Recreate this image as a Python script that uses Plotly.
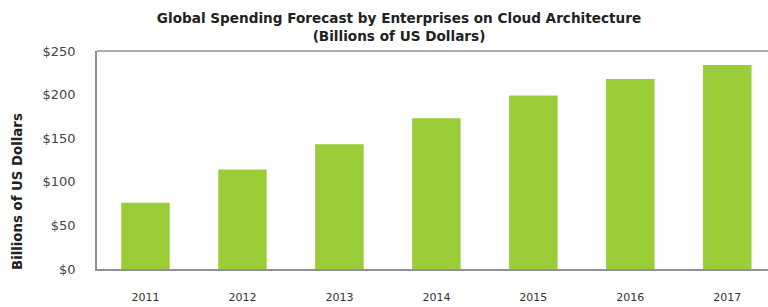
import plotly.graph_objects as go

years = ["2011", "2012", "2013", "2014", "2015", "2016", "2017"]
spending = [76, 114, 143, 173, 199, 218, 234]
y_ticks = [0, 50, 100, 150, 200, 250]
y_tick_labels = ["$0", "$50", "$100", "$150", "$200", "$250"]

W, H = 768, 307
L, R, T, B = 97, 0, 51, 38

fig = go.Figure(go.Bar(
    x=years, y=spending,
    marker=dict(color="#9acd38", line=dict(width=0)),
    width=0.5,
))

axis_col = "#8c9099"
font_fam = "DejaVu Sans, Verdana, sans-serif"
fig.update_layout(
    width=W, height=H,
    margin=dict(l=L, r=R, t=T, b=B),
    plot_bgcolor="white", paper_bgcolor="white",
    showlegend=False,
    font=dict(family=font_fam, color="#333333"),
    title=dict(
        text="<b>Global Spending Forecast by Enterprises on Cloud Architecture<br>(Billions of US Dollars)</b>",
        x=399 / W, xanchor="center", xref="container",
        y=1 - 23 / H, yanchor="top", yref="container",
        font=dict(size=13.6, color="#222222", family=font_fam),
    ),
    xaxis=dict(
        type="category",
        range=[-0.5, 6.42],
        showline=True, linecolor=axis_col, linewidth=1.5,
        showgrid=False, ticks="", ticklabelstandoff=17,
        tickfont=dict(size=11, color="#333333"),
    ),
    yaxis=dict(
        range=[0, 250],
        tickvals=y_ticks, ticktext=y_tick_labels,
        showline=True, linecolor=axis_col, linewidth=1.5,
        showgrid=False, ticks="", ticklabelstandoff=17,
        tickfont=dict(size=13, color="#444444"),
    ),
    shapes=[dict(type="line", xref="paper", yref="paper", x0=0, x1=1, y0=1, y1=1,
                 line=dict(color=axis_col, width=1.5))],
    annotations=[dict(
        text="<b>Billions of US Dollars</b>", textangle=-90,
        xref="paper", yref="paper",
        x=(17 - L) / (W - L - R), y=(H - B - 192) / (H - T - B),
        xanchor="center", yanchor="middle", showarrow=False,
        font=dict(size=13.3, color="#222222"),
    )],
)

fig.write_html("out.html", config={"displayModeBar": False},
               post_script="document.body.style.margin='0';")
